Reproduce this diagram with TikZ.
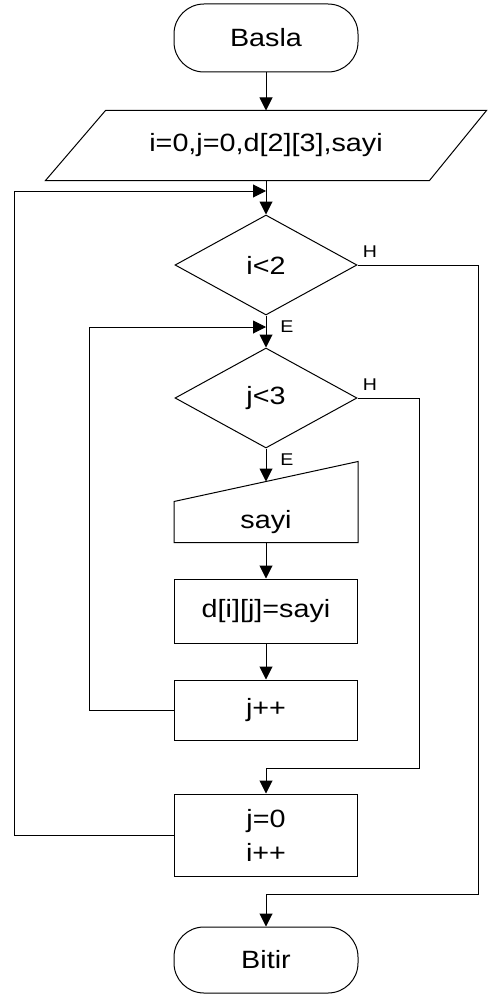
\documentclass[tikz,border=0pt]{standalone}
\usepackage{fontspec}
\setmainfont{Liberation Sans}[FakeStretch=1.15]
\usetikzlibrary{shapes.geometric,arrows.meta}
\tikzset{
  wire/.style={draw=black, line width=0.5pt},
  flow/.style={wire, -{Triangle[length=6.5pt,width=6.5pt]}},
  block/.style={
    draw=black,
    fill=white,
    line width=0.5pt,
    minimum width=91.5pt,
    minimum height=30pt,
    align=center,
    inner sep=2pt,
    font=\fontsize{12.5}{15}\selectfont
  },
  terminal/.style={block, rounded corners=15pt, minimum width=92pt, minimum height=34pt},
  decision/.style={block, diamond, minimum width=91pt, minimum height=50pt, inner sep=0pt},
  smalllabel/.style={font=\fontsize{8.5}{9}\selectfont, inner sep=1pt}
}

\begin{document}
\begin{tikzpicture}[x=0.5pt, y=-0.5pt]
  \useasboundingbox (0,0) rectangle (487,995);

  % outer loop over i, inner loop over j
  \node[terminal] (S) at (266,38) {Basla};

  \node[block, draw=none, minimum width=220pt, minimum height=34.5pt] (I) at (266,145.5) {i=0,j=0,d[2][3],sayi};
  \draw[wire] ([xshift=30pt]I.north west) -- (I.north east) -- ([xshift=-28.5pt]I.south east) -- (I.south west) -- cycle;

  \node[decision] (D1) at (266,265) {i<2};
  \node[decision] (D2) at (266,398) {j<3};

  \node[block, draw=none, minimum height=20pt] (R) at (266,522) {sayi};
  \draw[wire] (R.south west) -- (R.south east) -- ([yshift=20pt]R.north east) -- (R.north west) -- cycle;

  \node[block, minimum height=32pt] (A) at (266,611) {d[i][j]=sayi};
  \node[block] (J) at (266,710) {j++};
  \node[block, minimum height=41pt, font=\fontsize{12.5}{17}\selectfont] (K) at (266,835) {j=0\\i++};
  \node[terminal, minimum height=33pt] (B) at (266,960) {Bitir};

  \coordinate (M1) at (266,191);
  \coordinate (L1) at (14,191);
  \coordinate (M2) at (266,327);
  \coordinate (L2) at (89,327);
  \coordinate (R1) at (478,894);
  \coordinate (R2) at (419,768);

  \draw[flow] (S) -- (I.north);
  \draw[flow] (I.south) -- (D1);
  \draw[flow] (D1) -- (D2);
  \draw[flow] (D2) -- ([yshift=10pt]R.north);
  \draw[flow] (R) -- (A);
  \draw[flow] (A) -- (J);
  \draw[flow] (J.west) -| (L2) -- (M2);
  \draw[flow] (K.west) -| (L1) -- (M1);
  \draw[flow] (D2.east) -| (R2) -| (K.north);
  \draw[flow] (D1.east) -| (R1) -| (B.north);

  \node[smalllabel, anchor=south west] (H1) at ([xshift=1.5pt,yshift=2.5pt]D1.east) {H};
  \node[smalllabel, anchor=north west] (E1) at ([xshift=6pt,yshift=-1.5pt]D1.south) {E};
  \node[smalllabel, anchor=south west] (H2) at ([xshift=1.5pt,yshift=2.5pt]D2.east) {H};
  \node[smalllabel, anchor=north west] (E2) at ([xshift=6pt,yshift=-1.5pt]D2.south) {E};
\end{tikzpicture}
\end{document}
